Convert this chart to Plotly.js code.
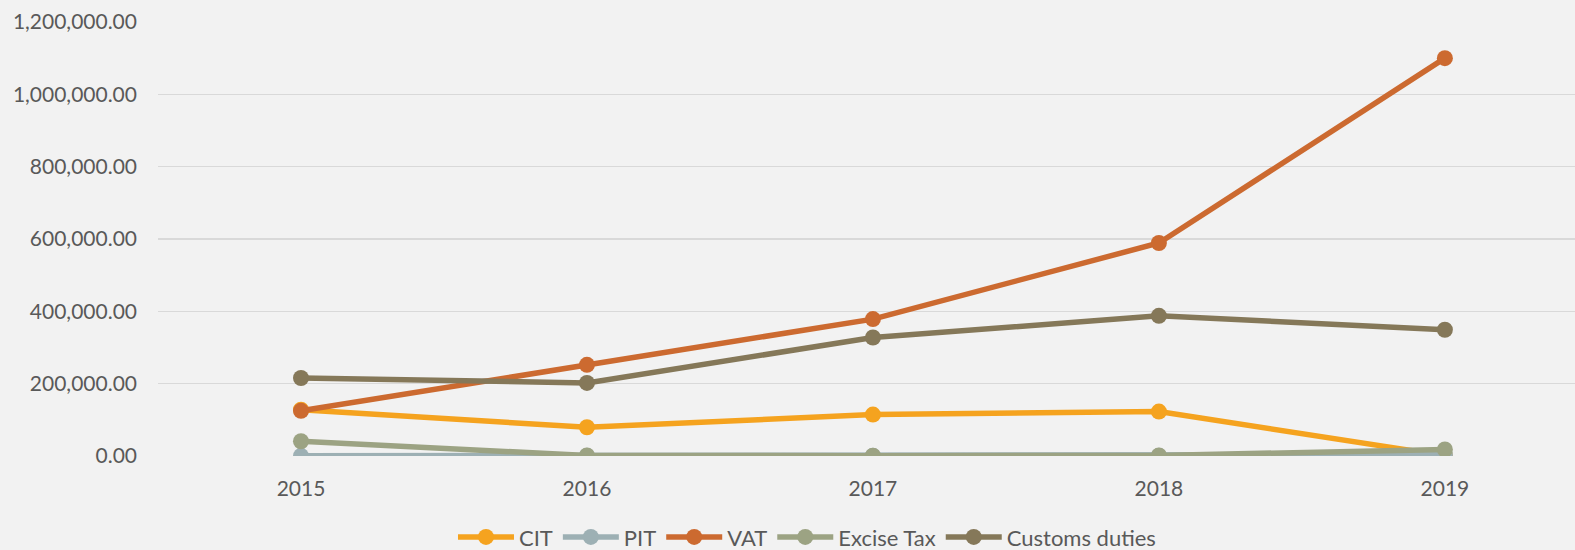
<!DOCTYPE html>
<html>
<head>
<meta charset="utf-8">
<script src="https://cdn.plot.ly/plotly-3.0.1.min.js"></script>
<style>
html,body{margin:0;padding:0;background:#F2F2F2;}
#chart{width:1575px;height:550px;}
</style>
</head>
<body>
<div id="chart"></div>
<script>
const years = ['2015', '2016', '2017', '2018', '2019'];
const cit = [128000, 79500, 114500, 122800, 1000];
const pit = [500, 500, 500, 500, 4000];
const vat = [125000, 252000, 378500, 589000, 1100000];
const excise = [40800, 1500, 1000, 1500, 18000];
const customs = [215700, 202000, 327700, 387600, 349000];

const seriesNames = ['CIT', 'PIT', 'VAT', 'Excise Tax', 'Customs duties'];
const seriesValues = [cit, pit, vat, excise, customs];
const seriesColors = ['#F5A31F', '#9DB0B4', '#CC6A30', '#9CA383', '#857859'];

const traces = seriesNames.map((n, i) => ({
  type: 'scatter',
  mode: 'lines+markers',
  name: n,
  x: years,
  y: seriesValues[i],
  line: {color: seriesColors[i], width: 5.5},
  marker: {color: seriesColors[i], size: 16}
}));

const layout = {
  width: 1575,
  height: 550,
  paper_bgcolor: '#F2F2F2',
  plot_bgcolor: '#F2F2F2',
  margin: {l: 158, r: 0, t: 21.5, b: 93.5, autoexpand: false},
  font: {family: 'Lato, "Open Sans", sans-serif', size: 21, color: '#595959'},
  showlegend: true,
  legend: {
    orientation: 'h',
    x: 0.458,
    xanchor: 'center',
    y: -0.187,
    yanchor: 'middle',
    itemwidth: 56,
    tracegroupgap: 0,
    font: {size: 22, color: '#595959'},
    bgcolor: 'rgba(0,0,0,0)'
  },
  xaxis: {
    type: 'category',
    range: [-0.5, 4.455],
    showgrid: false,
    zeroline: false,
    showline: false,
    ticks: '',
    ticklabelstandoff: 18,
    tickfont: {size: 21, color: '#595959'}
  },
  yaxis: {
    range: [0, 1200000],
    dtick: 200000,
    tickformat: ',.2f',
    showgrid: true,
    gridcolor: '#D9D9D9',
    gridwidth: 1.5,
    zeroline: false,
    showline: false,
    ticks: '',
    ticklabelstandoff: 20,
    tickfont: {size: 21, color: '#595959'}
  }
};

Plotly.newPlot('chart', traces, layout, {displayModeBar: false, staticPlot: true});
</script>
</body>
</html>
